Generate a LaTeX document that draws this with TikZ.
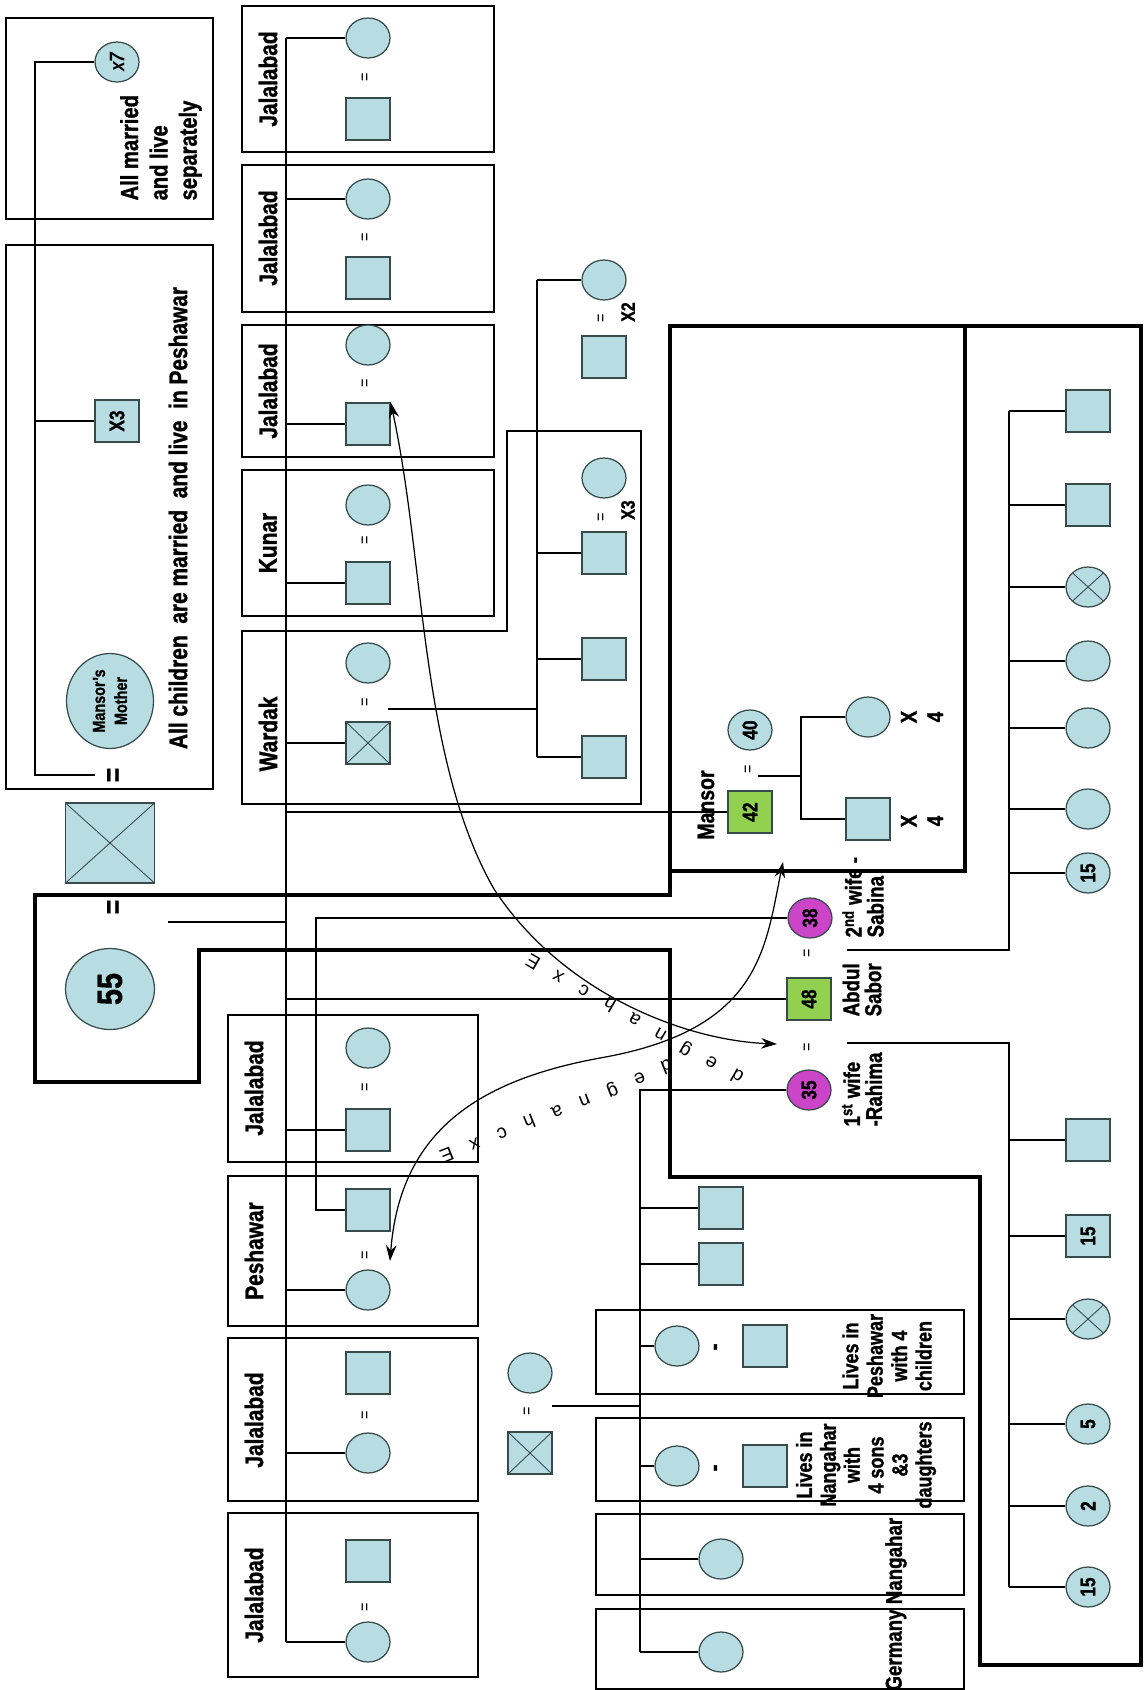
\documentclass[tikz,border=0pt]{standalone}
\usepackage{fontspec}
\setmainfont{Liberation Sans}[FakeStretch=0.82,BoldFeatures={FakeBold=1.2}]
\newfontfamily\thinsf{Liberation Sans}
\usetikzlibrary{shapes.geometric,arrows.meta,calc}
\definecolor{kinblue}{RGB}{183,221,226}
\definecolor{kingreen}{RGB}{146,208,80}
\definecolor{kinpink}{RGB}{204,68,200}
\definecolor{kinline}{RGB}{55,75,75}
\begin{document}
\begin{tikzpicture}[>={Stealth[length=9pt,width=6pt]},x=0.02cm,y=-0.02cm,line width=0.7pt,
	kin/.style={draw=kinline,fill=kinblue,rotate=90,inner sep=0pt,align=center,font=\bfseries\fontsize{12}{12}\selectfont},
	male/.style={kin,rectangle,minimum width=0.84cm,minimum height=0.88cm},
	female/.style={kin,ellipse,minimum width=0.8cm,minimum height=0.88cm},
	dead/.style={path picture={\draw[kinline,line width=0.5pt] (path picture bounding box.south west)--(path picture bounding box.north east) (path picture bounding box.north west)--(path picture bounding box.south east);}},
	eq/.style={rotate=90,inner sep=0.5pt,font=\fontsize{10}{10}\selectfont},
	bigeq/.style={rotate=90,inner sep=0.5pt,font=\bfseries\fontsize{17}{17}\selectfont},
	lbl/.style={rotate=90,inner sep=0pt,align=center,font=\bfseries\fontsize{14.5}{16}\selectfont},
	place/.style={draw,line width=1pt},
	house/.style={draw,line width=2.6pt},
	xch/.style={inner sep=0pt,font=\thinsf\fontsize{11}{11}\selectfont}]
	\useasboundingbox (0,0) rectangle (1143,1690);
	% mother's side
	\draw[place] (6,18) rectangle (213,219);
	\draw[place] (6,245) rectangle (213,789);
	\node[female,font=\bfseries\itshape\fontsize{12}{12}\selectfont] (sis7) at (117,62) {x7};
	\node[male] (bro3) at (117,421) {X3};
	\node[lbl,anchor=west,align=left,font=\bfseries\fontsize{14}{16.7}\selectfont] (sepnote) at (161,201) {All married\\and live\\separately};
	\node[lbl] (pesnote) at (178,518) {All children~ are married~ and live~ in Peshawar};
	\node[female,minimum width=1.9cm,minimum height=1.74cm,font=\bfseries\fontsize{10}{12.5}\selectfont] (mom) at (110,701) {Mansor's\\Mother};
	\node[bigeq] (eqA) at (115,775) {=};
	\node[male,dead,minimum width=1.6cm,minimum height=1.78cm] (gpa) at (110,843) {};
	\node[bigeq] (eqB) at (115,907) {=};
	\node[female,minimum width=1.62cm,minimum height=1.78cm,font=\bfseries\fontsize{20}{20}\selectfont] (gma) at (110,989) {55};
	\coordinate (sA) at (35,62);
	\draw[shorten <=6pt] (eqA.north) -- (eqA.north -| sA) -- (sA) -- (sis7);
	\draw (sA |- bro3) -- (bro3);
	% places of the married children
	\foreach \t/\b in {6/152,165/312,325/457,470/616}
		\draw[place] (242,\t) rectangle (494,\b);
	\draw[place] (242,631) -- (507,631) -- (507,431) -- (641,431) -- (641,804) -- (242,804) -- cycle;
	\foreach \t/\b in {1015/1162,1176/1326,1338/1501,1513/1677}
		\draw[place] (228,\t) rectangle (478,\b);
	\foreach \t/\b in {1310/1394,1418/1501,1514/1595,1609/1689}
		\draw[place] (596,\t) rectangle (964,\b);
	\foreach \y/\t in {79/Jalalabad,238/Jalalabad,391/Jalalabad,543/Kunar,734/Wardak}
		\node[lbl] (lab\y) at (268,\y) {\t};
	\foreach \y/\t in {1088/Jalalabad,1251/Peshawar,1420/Jalalabad,1595/Jalalabad}
		\node[lbl] (lab\y) at (254,\y) {\t};
	\foreach \i/\yc/\ye/\yq in {1/38/77/119,2/199/237/278,3/345/383/424,4/505/540/583,6/1048/1087/1130,7/1290/1255/1210,8/1453/1415/1373,9/1642/1607/1561}{
		\node[female] (c\i) at (368,\yc) {};
		\node[eq] (e\i) at (366,\ye) {=};
		\node[male] (q\i) at (368,\yq) {};
	}
	\node[female] (c5) at (368,663) {};
	\node[eq] (e5) at (366,702) {=};
	\node[male,dead] (q5) at (368,743) {};
	% Wardak family
	\node[female] (x2w) at (604,280) {};
	\node[eq] (x2e) at (602,318) {=};
	\node[male] (x2h) at (604,357) {};
	\node[lbl,font=\bfseries\fontsize{11}{11}\selectfont] (x2l) at (628,312) {X2};
	\node[female] (x3w) at (604,478) {};
	\node[eq] (x3e) at (602,517) {=};
	\node[male] (x3h) at (604,553) {};
	\node[lbl,font=\bfseries\fontsize{11}{11}\selectfont] (x3l) at (628,510) {X3};
	\node[male] (k2) at (604,659) {};
	\node[male] (k3) at (604,757) {};
	\coordinate (sW) at (537,280);
	\coordinate (kW) at (388,709);
	\draw (kW) -- (kW -| sW);
	\draw (sW) -- (sW |- k3);
	\foreach \n in {x2w,x3h,k2,k3}
		\draw (sW |- \n) -- (\n);
	% Mansor
	\node[lbl,font=\bfseries\fontsize{13.5}{14}\selectfont] (mlab) at (706,805) {Mansor};
	\node[male,fill=kingreen] (m42) at (750,812) {42};
	\node[eq] (em) at (749,769) {=};
	\node[female] (w40) at (750,730) {40};
	\node[female] (mdau) at (868,717) {};
	\node[male] (mson) at (868,819) {};
	\node[lbl,font=\bfseries\fontsize{13}{15}\selectfont] (mdx) at (922,717) {X\\4};
	\node[lbl,font=\bfseries\fontsize{13}{15}\selectfont] (msx) at (922,821) {X\\4};
	\coordinate (kM) at (758,776);
	\coordinate (sM) at (801,717);
	\draw (kM) -- (kM -| sM);
	\draw (mdau) -- (sM) -- (sM |- mson) -- (mson);
	% Abdul Sabor and his wives
	\node[female,fill=kinpink] (s38) at (810,918) {38};
	\node[eq] (eS) at (808,953) {=};
	\node[male,fill=kingreen] (a48) at (809,999) {48};
	\node[eq] (eR) at (808,1047) {=};
	\node[female,fill=kinpink] (r35) at (809,1090) {35};
	\node[lbl,anchor=west,align=left,font=\bfseries\fontsize{13}{12.5}\selectfont] (slab) at (863,938) {2\textsuperscript{nd} wife -\\Sabina};
	\node[lbl,anchor=west,align=left,font=\bfseries\fontsize{13}{12.5}\selectfont] (alab) at (862,1017) {Abdul\\Sabor};
	\node[lbl,anchor=west,align=left,font=\bfseries\fontsize{13}{12.5}\selectfont] (rlab) at (862,1127) {1\textsuperscript{st} wife\\-Rahima};
	% children with Sabina
	\node[male] (sc1) at (1088,411) {};
	\node[male] (sc2) at (1088,505) {};
	\node[female,dead] (sc3) at (1088,587) {};
	\node[female] (sc4) at (1088,661) {};
	\node[female] (sc5) at (1088,728) {};
	\node[female] (sc6) at (1088,809) {};
	\node[female] (sc7) at (1088,873) {15};
	\coordinate (kS) at (847,950);
	\coordinate (sS) at (1009,411);
	\draw (kS) -- (kS -| sS) -- (sS);
	\foreach \n in {sc1,sc2,sc3,sc4,sc5,sc6,sc7}
		\draw (sS |- \n) -- (\n);
	% children with Rahima
	\node[male] (rc1) at (1088,1140) {};
	\node[male] (rc2) at (1088,1236) {15};
	\node[female,dead] (rc3) at (1088,1319) {};
	\node[female] (rc4) at (1088,1424) {5};
	\node[female] (rc5) at (1088,1506) {2};
	\node[female] (rc6) at (1088,1587) {15};
	\coordinate (kR) at (847,1043);
	\coordinate (sR) at (1009,1587);
	\draw (kR) -- (kR -| sR) -- (sR);
	\foreach \n in {rc1,rc2,rc3,rc4,rc5,rc6}
		\draw (sR |- \n) -- (\n);
	% Rahima's family
	\node[female] (rmom) at (530,1373) {};
	\node[eq] (eRP) at (528,1411) {=};
	\node[male,dead] (rdad) at (530,1453) {};
	\node[male] (rb1) at (721,1208) {};
	\node[male] (rb2) at (721,1264) {};
	\node[female] (ps1) at (677,1346) {};
	\node[lbl] (ps1d) at (718,1347) {-};
	\node[male] (ps1h) at (765,1346) {};
	\node[female] (ng1) at (677,1466) {};
	\node[lbl] (ng1d) at (718,1468) {-};
	\node[male] (ng1h) at (765,1466) {};
	\node[female] (ng2) at (721,1559) {};
	\node[female] (gm1) at (721,1652) {};
	\node[lbl,font=\bfseries\fontsize{12.5}{13.9}\selectfont] (lpnote) at (887,1356) {Lives in\\Peshawar\\with 4\\children};
	\node[lbl,font=\bfseries\fontsize{12.5}{13.6}\selectfont] (lnnote) at (866,1465) {Lives in\\Nangahar\\with\\4 sons\\\&3\\daughters};
	\node[lbl,font=\bfseries\fontsize{13}{14}\selectfont] (nnote) at (896,1561) {Nangahar};
	\node[lbl,font=\bfseries\fontsize{13}{14}\selectfont] (gnote) at (896,1650) {Germany};
	\coordinate (kRP) at (552,1406);
	\coordinate (sRP) at (640,1090);
	\draw (kRP) -- (kRP -| sRP);
	\draw (r35) -- (sRP) -- (sRP |- gm1);
	\foreach \n in {rb1,rb2,ps1,ng1,ng2,gm1}
		\draw (sRP |- \n) -- (\n);
	% Mansor's father and 55: their children
	\coordinate (s55) at (286,38);
	\coordinate (k55) at (168,922);
	\coordinate (sP) at (316,918);
	\draw (k55) -- (k55 -| s55);
	\draw (s55) -- (s55 |- c9);
	\foreach \n in {c1,c2,q3,q4,q5,q6,c7,c8,c9,m42,a48}
		\draw (s55 |- \n) -- (\n);
	\draw (q7) -- (q7 -| sP) |- (s38);
	% household
	\draw[house] (35,895) -- (670,895) -- (670,326) -- (1141,326) -- (1141,1665) -- (980,1665) -- (980,1177) -- (670,1177) -- (670,950) -- (199,950) -- (199,1082) -- (35,1082) -- cycle;
	\draw[house] (965,326) -- (965,871) -- (670,871);
	% exchanged brides
	\coordinate (xR) at (777,1044);
	\coordinate (xP) at (390,1261);
	\coordinate (xM) at (783,862);
	\draw[<->] (q3.south east) .. controls (425,560) and (420,760) .. (494,889) .. controls (560,990) and (680,1040) .. (xR);
	\draw[<->] (xP) .. controls (400,1130) and (480,1080) .. (600,1058) .. controls (760,1030) and (765,950) .. (xM);
	\foreach \ch [count=\i from 0] in {E,x,c,h,a,n,g,e,d}{
		\node[xch,rotate=150] (xa\i) at ($(533,962)!\i/8!(737,1077)$) {\ch};
		\node[xch,rotate=202] (xb\i) at ($(447,1155)!\i/8!(667,1067)$) {\ch};
	}
\end{tikzpicture}
\end{document}
